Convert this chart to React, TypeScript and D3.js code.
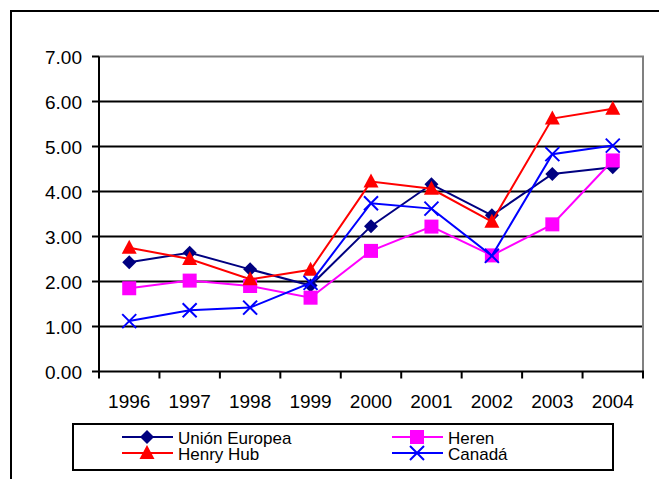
import * as d3 from "d3";

const years = ["1996", "1997", "1998", "1999", "2000", "2001", "2002", "2003", "2004"];
const unionEuropea = [2.43, 2.64, 2.27, 1.91, 3.23, 4.16, 3.47, 4.39, 4.54];
const heren = [1.85, 2.02, 1.9, 1.64, 2.68, 3.22, 2.58, 3.27, 4.69];
const henryHub = [2.75, 2.5, 2.05, 2.26, 4.22, 4.06, 3.33, 5.62, 5.84];
const canada = [1.12, 1.36, 1.42, 1.97, 3.74, 3.62, 2.57, 4.83, 5.02];
const yTicks = [0, 1, 2, 3, 4, 5, 6, 7];

interface Series {
	name: string;
	values: number[];
	color: string;
	marker: string;
}

// order as drawn (and as the legend flows, row by row)
const series: Series[] = [
	{ name: "Unión Europea", values: unionEuropea, color: "#000080", marker: "diamond" },
	{ name: "Heren", values: heren, color: "#FF00FF", marker: "square" },
	{ name: "Henry Hub", values: henryHub, color: "#FF0000", marker: "triangle" },
	{ name: "Canadá", values: canada, color: "#0000FF", marker: "x" },
];

const font = "'Liberation Sans', Arial, sans-serif";

function Marker(props: { kind: string; x: number; y: number; color: string }) {
	const { kind, x, y, color } = props;
	if (kind === "diamond") {
		return <path d="M0,-7L7,0L0,7L-7,0Z" transform={`translate(${x},${y})`} fill={color} />;
	}
	if (kind === "square") {
		return <rect x={x - 7} y={y - 7} width={14} height={14} fill={color} />;
	}
	if (kind === "triangle") {
		return <path d="M0,-8L7.5,6L-7.5,6Z" transform={`translate(${x},${y})`} fill={color} />;
	}
	return (
		<path
			d="M-7,-7L7,7M-7,7L7,-7"
			transform={`translate(${x},${y})`}
			stroke={color}
			strokeWidth={2}
			fill="none"
		/>
	);
}

function App() {
	const left = 99;
	const right = 643;
	const top = 56.5;
	const bottom = 371.5;

	const xScale = d3.scaleBand().domain(years).range([left, right]);
	const yScale = d3.scaleLinear().domain([0, 7]).range([bottom, top]);
	const cx = (y: string) => (xScale(y) || 0) + xScale.bandwidth() / 2;

	const line = d3
		.line<number>()
		.x((_, i) => cx(years[i]))
		.y((d) => yScale(d));

	const tickXs = years.map((y) => xScale(y) || 0).concat([right]);

	const legendCols = [122, 392];
	const legendRows = [437, 453];

	return (
		<svg
			width={659}
			height={479}
			style={{ position: "absolute", left: 0, top: 0, background: "#fff" }}
			fontFamily={font}
		>
			{/* outer chart frame */}
			<path d="M11,479V11H659" fill="none" stroke="#000" strokeWidth={2} />

			{/* gridlines */}
			{yTicks.slice(1, -1).map((t) => (
				<line key={t} x1={left} x2={right} y1={yScale(t)} y2={yScale(t)} stroke="#000" strokeWidth={2} />
			))}
			{/* plot area border top/right */}
			<path d={`M${left},${top}H${right}V${bottom}`} fill="none" stroke="#808080" strokeWidth={2} />

			{/* y axis */}
			<line x1={left} x2={left} y1={top} y2={bottom + 1} stroke="#000" strokeWidth={2} />
			{yTicks.map((t) => (
				<g key={t}>
					<line x1={left - 7} x2={left} y1={yScale(t)} y2={yScale(t)} stroke="#000" strokeWidth={2} />
					<text x={82} y={yScale(t) + 7} textAnchor="end" fontSize={19} fill="#000">
						{t.toFixed(2)}
					</text>
				</g>
			))}

			{/* x axis */}
			<line x1={left - 1} x2={right + 1} y1={bottom} y2={bottom} stroke="#000" strokeWidth={2} />
			{tickXs.map((x, i) => (
				<line key={i} x1={x} x2={x} y1={bottom} y2={bottom + 7} stroke="#000" strokeWidth={2} />
			))}
			{years.map((y) => (
				<text key={y} x={cx(y)} y={408} textAnchor="middle" fontSize={19} fill="#000">
					{y}
				</text>
			))}

			{/* series */}
			{series.map((s) => (
				<g key={s.name}>
					<path d={line(s.values) || ""} fill="none" stroke={s.color} strokeWidth={2} />
					{s.values.map((v, i) => (
						<Marker key={i} kind={s.marker} x={cx(years[i])} y={yScale(v)} color={s.color} />
					))}
				</g>
			))}

			{/* legend */}
			<rect x={73} y={424} width={540} height={46} fill="#fff" stroke="#000" strokeWidth={2} />
			{series.map((s, i) => {
				const lx = legendCols[i % 2];
				const ly = legendRows[Math.floor(i / 2)];
				return (
					<g key={s.name}>
						<line x1={lx} x2={lx + 51} y1={ly} y2={ly} stroke={s.color} strokeWidth={2} />
						<Marker kind={s.marker} x={lx + 25} y={ly} color={s.color} />
						<text x={lx + 56} y={ly + 7} fontSize={17} fill="#000">
							{s.name}
						</text>
					</g>
				);
			})}
		</svg>
	);
}

export default App;
